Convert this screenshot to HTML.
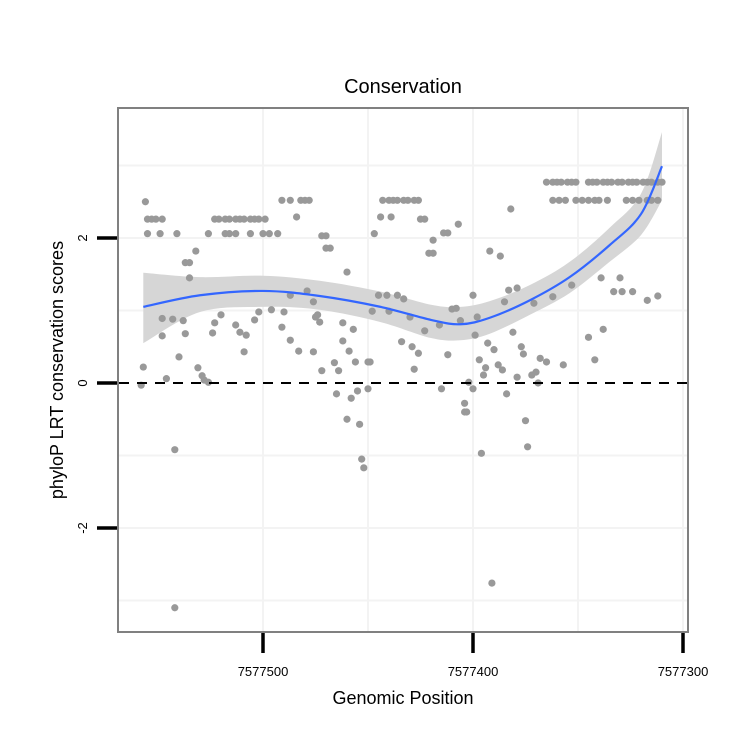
<!DOCTYPE html>
<html><head><meta charset="utf-8"><style>
body{margin:0;background:#fff}
svg text{font-family:"Liberation Sans",sans-serif}
</style></head><body>
<svg id="chart" width="750" height="750">
<rect width="750" height="750" fill="#fff"/>
<text x="403" y="93" font-size="20" text-anchor="middle">Conservation</text>
<g id="grid"></g>
<g id="band"></g>
<g id="pts"></g>
<g id="fit"></g>
<rect x="118" y="108" width="570" height="524" fill="none" stroke="#808080" stroke-width="2"/>
<g id="axes"></g>
<text x="403" y="704" font-size="18" text-anchor="middle">Genomic Position</text>
<text transform="translate(63,370) rotate(-90)" font-size="18" text-anchor="middle">phyloP LRT conservation scores</text>
</svg>
<script>
const positions=[7577558,7577557,7577556,7577555,7577553,7577551,7577548,7577555,7577541,7577543,7577548,7577538,7577548,7577537,7577540,7577531,7577546,7577528,7577529,7577526,7577542,7577542,7577532,7577537,7577535,7577535,7577523,7577520,7577524,7577513,7577511,7577508,7577509,7577502,7577504,7577496,7577490,7577491,7577487,7577483,7577487,7577479,7577476,7577475,7577476,
7577523,7577521,7577518,7577516,7577513,7577511,7577509,7577506,7577504,7577502,7577499,
7577549,7577526,7577518,7577516,7577513,7577506,7577500,7577497,7577493,
7577491,7577487,7577482,7577480,7577478,7577484,
7577443,7577440,7577438,7577436,7577433,7577431,7577428,7577426,7577444,7577439,7577447,7577470,7577472,7577468,7577470,7577423,7577425,7577419,7577412,7577414,7577407,7577419,7577421,7577392,7577387,7577460,
7577474,7577473,7577462,7577457,7577462,7577459,7577466,7577464,7577456,7577450,7577449,7577472,7577465,7577458,7577455,7577450,7577460,7577454,7577453,7577452,
7577445,7577441,7577436,7577433,7577448,7577440,7577430,7577423,7577434,7577429,7577426,7577428,7577416,7577410,7577408,7577406,7577412,7577415,7577402,7577400,7577404,7577404,7577403,7577396,
7577400,7577398,7577399,7577393,7577390,7577397,7577394,7577395,7577391,
7577382,7577383,7577379,7577385,7577371,7577362,7577353,7577339,7577330,7577333,7577329,7577324,7577317,7577312,
7577381,7577377,7577376,7577368,7577365,7577357,7577345,7577338,7577342,7577388,7577386,7577379,7577372,7577370,7577369,7577384,7577375,7577374,
7577365,7577362,7577360,7577358,7577355,7577353,7577351,7577345,7577343,7577341,7577338,7577336,7577334,7577331,7577329,7577326,7577324,7577322,7577319,7577317,7577315,7577312,7577310,
7577362,7577359,7577356,7577351,7577348,7577345,7577342,7577340,7577336,7577327,7577324,7577321,7577317,7577315,7577312];
const scores=[-0.03,0.22,2.50,2.26,2.26,2.26,2.26,2.06,2.06,0.88,0.89,0.86,0.65,0.68,0.36,0.21,0.06,0.04,0.10,0.01,-0.92,-3.10,1.82,1.66,1.66,1.45,0.83,0.94,0.69,0.80,0.70,0.66,0.43,0.98,0.87,1.01,0.98,0.77,0.59,0.44,1.21,1.27,1.12,0.91,0.43,
2.26,2.26,2.26,2.26,2.26,2.26,2.26,2.26,2.26,2.26,2.26,
2.06,2.06,2.06,2.06,2.06,2.06,2.06,2.06,2.06,
2.52,2.52,2.52,2.52,2.52,2.29,
2.52,2.52,2.52,2.52,2.52,2.52,2.52,2.52,2.29,2.29,2.06,2.03,2.03,1.86,1.86,2.26,2.26,1.97,2.07,2.07,2.19,1.79,1.79,1.82,1.75,1.53,
0.94,0.84,0.83,0.74,0.58,0.44,0.28,0.17,0.29,0.29,0.29,0.17,-0.15,-0.21,-0.11,-0.08,-0.50,-0.57,-1.05,-1.17,
1.21,1.21,1.21,1.16,0.99,0.99,0.91,0.72,0.57,0.50,0.41,0.19,0.80,1.02,1.03,0.86,0.39,-0.08,0.01,-0.08,-0.28,-0.40,-0.40,-0.97,
1.21,0.91,0.66,0.55,0.46,0.32,0.21,0.11,-2.76,
2.40,1.28,1.31,1.12,1.10,1.19,1.35,1.45,1.45,1.26,1.26,1.26,1.14,1.20,
0.70,0.50,0.40,0.34,0.29,0.25,0.63,0.74,0.32,0.25,0.18,0.08,0.11,0.15,0.00,-0.15,-0.52,-0.88,
2.77,2.77,2.77,2.77,2.77,2.77,2.77,2.77,2.77,2.77,2.77,2.77,2.77,2.77,2.77,2.77,2.77,2.77,2.77,2.77,2.77,2.77,2.77,
2.52,2.52,2.52,2.52,2.52,2.52,2.52,2.52,2.52,2.52,2.52,2.52,2.52,2.52,2.52];
const fitPos=[7577557,7577530,7577500,7577473,7577444,7577420,7577406,7577392,7577373,7577354,7577335,7577320,7577310];
const fitVal=[1.05,1.21,1.27,1.20,1.05,0.87,0.81,0.90,1.14,1.46,1.90,2.33,2.99];
const fitHi=[1.52,1.46,1.48,1.41,1.26,1.08,1.05,1.13,1.35,1.67,2.14,2.61,3.46];
const fitLo=[0.55,0.98,1.05,1.01,0.84,0.62,0.59,0.68,0.94,1.24,1.67,2.04,2.52];
const yTicks=[-2,0,2];
const yGrid=[-3,-1,1,3];
const xTicks=[7577500,7577400,7577300];
const xGrid=[7577450,7577350];

const X=p=>263+(7577500-p)*2.1;
const Y=v=>383-v*72.5;
const NS='http://www.w3.org/2000/svg';
function mk(tag,parent,attrs){const e=document.createElementNS(NS,tag);for(const k in attrs)e.setAttribute(k,attrs[k]);document.getElementById(parent).appendChild(e);return e;}
yGrid.concat([-2,2]).forEach(v=>{const l=mk('line','grid',{x1:119,x2:687,y1:Y(v),y2:Y(v),stroke:'#f3f3f3','stroke-width':2});

});
xGrid.concat(xTicks).forEach(p=>{const l=mk('line','grid',{x1:X(p),x2:X(p),y1:109,y2:631,stroke:'#f3f3f3','stroke-width':2});

});
function smooth(pts){let d='M'+pts[0][0]+','+pts[0][1];for(let i=0;i<pts.length-1;i++){const p0=pts[Math.max(0,i-1)],p1=pts[i],p2=pts[i+1],p3=pts[Math.min(pts.length-1,i+2)];d+=' C'+(p1[0]+(p2[0]-p0[0])/6)+','+(p1[1]+(p2[1]-p0[1])/6)+' '+(p2[0]-(p3[0]-p1[0])/6)+','+(p2[1]-(p3[1]-p1[1])/6)+' '+p2[0]+','+p2[1];}return d;}
const hi=fitPos.map((p,i)=>[X(p),Y(fitHi[i])]);
const lo=fitPos.map((p,i)=>[X(p),Y(fitLo[i])]).reverse();
const bd=smooth(hi)+' L'+smooth(lo).slice(1)+' Z';
const band=mk('path','band',{d:bd,fill:'#d6d6d6'});


positions.forEach((p,i)=>{const c=mk('circle','pts',{cx:X(p),cy:Y(scores[i]),r:3.6,fill:'#999999'});

});
const zl=mk('line','fit',{x1:119,x2:687,y1:Y(0),y2:Y(0),stroke:'#000','stroke-width':2,'stroke-dasharray':'10,8'});


const fl=mk('path','fit',{d:smooth(fitPos.map((p,i)=>[X(p),Y(fitVal[i])])),fill:'none',stroke:'#3366ff','stroke-width':2.2});


yTicks.forEach(v=>{const t=mk('line','axes',{x1:97,x2:117,y1:Y(v),y2:Y(v),stroke:'#000','stroke-width':3.5});


const tx=mk('text','axes',{transform:'translate(87,'+Y(v)+') rotate(-90)','font-size':13,'text-anchor':'middle'});tx.textContent=v;

});
xTicks.forEach(p=>{const t=mk('line','axes',{x1:X(p),x2:X(p),y1:633,y2:653,stroke:'#000','stroke-width':3.5});


const tx=mk('text','axes',{x:X(p),y:676,'font-size':13,'text-anchor':'middle'});tx.textContent=p;

});
</script>
</body></html>
